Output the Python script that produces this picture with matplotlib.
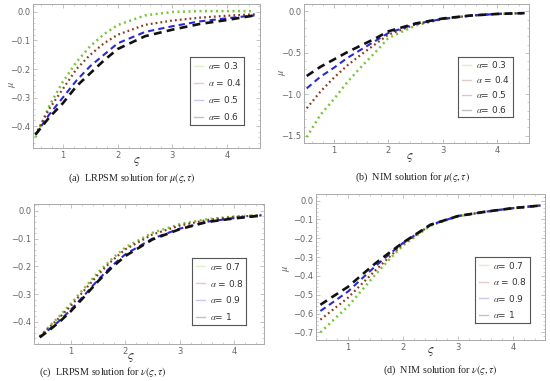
import matplotlib
matplotlib.use("Agg")
import matplotlib.pyplot as plt
from matplotlib.ticker import MultipleLocator

plt.rcParams['mathtext.fontset'] = 'stix'

# ---------------- data ----------------
alphas_top = ["0.3", "0.4", "0.5", "0.6"]
alphas_bot = ["0.7", "0.8", "0.9", "1"]

xa = [0.5, 0.75, 1.0, 1.25, 1.5, 1.75, 2.0, 2.5, 3.0, 3.5, 4.0, 4.5]
a_s1 = [-0.44, -0.33, -0.245, -0.175, -0.12, -0.078, -0.046, -0.012, 0.0, 0.003, 0.003, 0.003]
a_s2 = [-0.43, -0.34, -0.27, -0.20, -0.15, -0.11, -0.08, -0.045, -0.03, -0.02, -0.013, -0.008]
a_s3 = [-0.43, -0.36, -0.30, -0.24, -0.19, -0.15, -0.11, -0.07, -0.05, -0.033, -0.022, -0.012]
a_s4 = [-0.43, -0.37, -0.32, -0.26, -0.215, -0.17, -0.13, -0.085, -0.062, -0.042, -0.028, -0.012]

xb = [0.5, 0.75, 1.0, 1.25, 1.5, 1.75, 2.0, 2.5, 3.0, 3.5, 4.0, 4.5]
b_s1 = [-1.52, -1.25, -1.06, -0.85, -0.67, -0.50, -0.32, -0.17, -0.09, -0.05, -0.03, -0.02]
b_s2 = [-1.17, -0.97, -0.80, -0.65, -0.52, -0.40, -0.28, -0.155, -0.09, -0.05, -0.03, -0.02]
b_s3 = [-0.93, -0.79, -0.68, -0.56, -0.46, -0.36, -0.26, -0.15, -0.09, -0.05, -0.03, -0.02]
b_s4 = [-0.78, -0.67, -0.58, -0.49, -0.41, -0.33, -0.24, -0.145, -0.085, -0.05, -0.03, -0.02]

xc = [0.43, 0.6, 0.8, 1.0, 1.25, 1.5, 1.75, 2.0, 2.5, 3.0, 3.5, 4.0, 4.5]
c_s1 = [-0.453, -0.418, -0.378, -0.335, -0.278, -0.222, -0.174, -0.132, -0.079, -0.048, -0.030, -0.020, -0.015]
c_s2 = [-0.453, -0.421, -0.383, -0.343, -0.286, -0.230, -0.181, -0.139, -0.085, -0.053, -0.033, -0.022, -0.015]
c_s3 = [-0.455, -0.428, -0.395, -0.357, -0.304, -0.249, -0.199, -0.157, -0.100, -0.064, -0.039, -0.026, -0.016]
c_s4 = [-0.456, -0.431, -0.399, -0.362, -0.309, -0.254, -0.205, -0.163, -0.103, -0.066, -0.040, -0.027, -0.017]

xd = [0.5, 0.75, 1.0, 1.25, 1.5, 1.75, 2.0, 2.5, 3.0, 3.5, 4.0, 4.5]
d_s1 = [-0.70, -0.63, -0.562, -0.477, -0.392, -0.313, -0.238, -0.133, -0.083, -0.059, -0.040, -0.026]
d_s2 = [-0.632, -0.574, -0.516, -0.443, -0.370, -0.300, -0.230, -0.130, -0.082, -0.059, -0.040, -0.026]
d_s3 = [-0.586, -0.535, -0.483, -0.415, -0.348, -0.285, -0.225, -0.129, -0.082, -0.059, -0.040, -0.026]
d_s4 = [-0.553, -0.505, -0.458, -0.395, -0.333, -0.277, -0.223, -0.128, -0.082, -0.059, -0.040, -0.026]

captions = [r"(a)  LRPSM solution for $\mu(\varsigma,\tau)$",
            r"(b)  NIM solution for $\mu(\varsigma,\tau)$",
            r"(c)  LRPSM solution for $\nu(\varsigma,\tau)$",
            r"(d)  NIM solution for $\nu(\varsigma,\tau)$"]

# ---------------- style ----------------
colors = ["#7cc43a", "#8a3a1e", "#2a2ad0", "#111111"]
styles = [(0, (0.8, 1.4)), (0, (0.8, 1.4)), (0, (3.0, 2.0)), (0, (3.0, 2.0))]
widths = [1.8, 1.6, 1.5, 1.9]

W, H = 550, 381
fig = plt.figure(figsize=(W / 100, H / 100), dpi=100)


def rect(l, r, t, b):
    return [l / W, 1 - b / H, (r - l) / W, (b - t) / H]


panels = [
    dict(r=rect(33, 260, 4, 148), x=xa, ys=[a_s1, a_s2, a_s3, a_s4], labs=alphas_top,
         ylim=(-0.477, 0.028), xlim=(0.455, 4.6), ymaj=0.1, ymin=0.02, ylab=(13, 84),
         leg=(190, 244, 57, 125), cap=(132, 178), xl=(137, 162)),
    dict(r=rect(304, 529, 4, 143), x=xb, ys=[b_s1, b_s2, b_s3, b_s4], labs=alphas_top,
         ylim=(-1.59, 0.09), xlim=(0.45, 4.58), ymaj=0.5, ymin=0.1, ylab=(283, 72),
         leg=(458, 513, 57, 117), cap=(412, 177), xl=(410, 157)),
    dict(r=rect(34, 264, 204, 344), x=xc, ys=[c_s1, c_s2, c_s3, c_s4], labs=alphas_bot,
         ylim=(-0.48, 0.025), xlim=(0.325, 4.55), ymaj=0.1, ymin=0.02, ylab=None,
         leg=(192, 246, 258, 325), cap=(103, 372), xl=(131, 357)),
    dict(r=rect(316, 545, 194, 340), x=xd, ys=[d_s1, d_s2, d_s3, d_s4], labs=alphas_bot,
         ylim=(-0.74, 0.035), xlim=(0.42, 4.58), ymaj=0.1, ymin=0.02, ylab=(287, 268),
         leg=(475, 530, 257, 323), cap=(440, 370), xl=(431, 352)),
]

tick_col = "#666666"
frame_col = "#aaaaaa"

for i, p in enumerate(panels):
    ax = fig.add_axes(p["r"])
    for y, c, ls, lw in zip(p["ys"], colors, styles, widths):
        ax.plot(p["x"], y, color=c, linestyle=ls, linewidth=lw, dash_capstyle="butt")
    ax.set_xlim(*p["xlim"])
    ax.set_ylim(*p["ylim"])
    ax.xaxis.set_major_locator(MultipleLocator(1))
    ax.xaxis.set_minor_locator(MultipleLocator(0.2))
    ax.yaxis.set_major_locator(MultipleLocator(p["ymaj"]))
    ax.yaxis.set_minor_locator(MultipleLocator(p["ymin"]))
    ax.yaxis.set_major_formatter(plt.FuncFormatter(lambda v, _: f"{v:.1f}".replace("-", "\u2212")))
    ax.tick_params(which="both", direction="in", top=True, right=True,
                   colors=frame_col, labelcolor=tick_col, labelsize=6, pad=2)
    ax.tick_params(which="major", length=3, width=0.5)
    ax.tick_params(which="minor", length=1.5, width=0.4)
    for s in ax.spines.values():
        s.set_color(frame_col)
        s.set_linewidth(0.7)
    if p["ylab"] is not None:
        fig.text(p["ylab"][0] / W, 1 - p["ylab"][1] / H, r"$\mu$", color=tick_col,
                 fontsize=7.5, rotation=90, ha="center", va="center")
    fig.text(p["xl"][0] / W, 1 - p["xl"][1] / H, r"$\varsigma$", color="#333333",
             fontsize=9, ha="center", va="center")
    fig.text(p["cap"][0] / W, 1 - p["cap"][1] / H, captions[i], color="#222222",
             fontsize=7.3, ha="center", va="center", family="Liberation Serif")

    # legend box
    l, r, t, b = p["leg"]
    lax = fig.add_axes(rect(l, r, t, b))
    lax.set_xlim(0, 1)
    lax.set_ylim(0, 1)
    lax.set_xticks([])
    lax.set_yticks([])
    for s in lax.spines.values():
        s.set_color("#555555")
        s.set_linewidth(0.8)
    n = len(p["labs"])
    for k, (lab, c) in enumerate(zip(p["labs"], colors)):
        yy = 1 - (k + 0.5) / n
        lax.plot([0.08, 0.24], [yy, yy], color=c, alpha=0.25, linewidth=1.0)
        eq = " = " if k == 1 else "= "
        lax.text(0.33, yy, r"$\alpha$" + eq + lab, fontsize=6.5, color="#333333",
                 va="center", ha="left", family="DejaVu Sans")

fig.savefig("out.png", dpi=100)
